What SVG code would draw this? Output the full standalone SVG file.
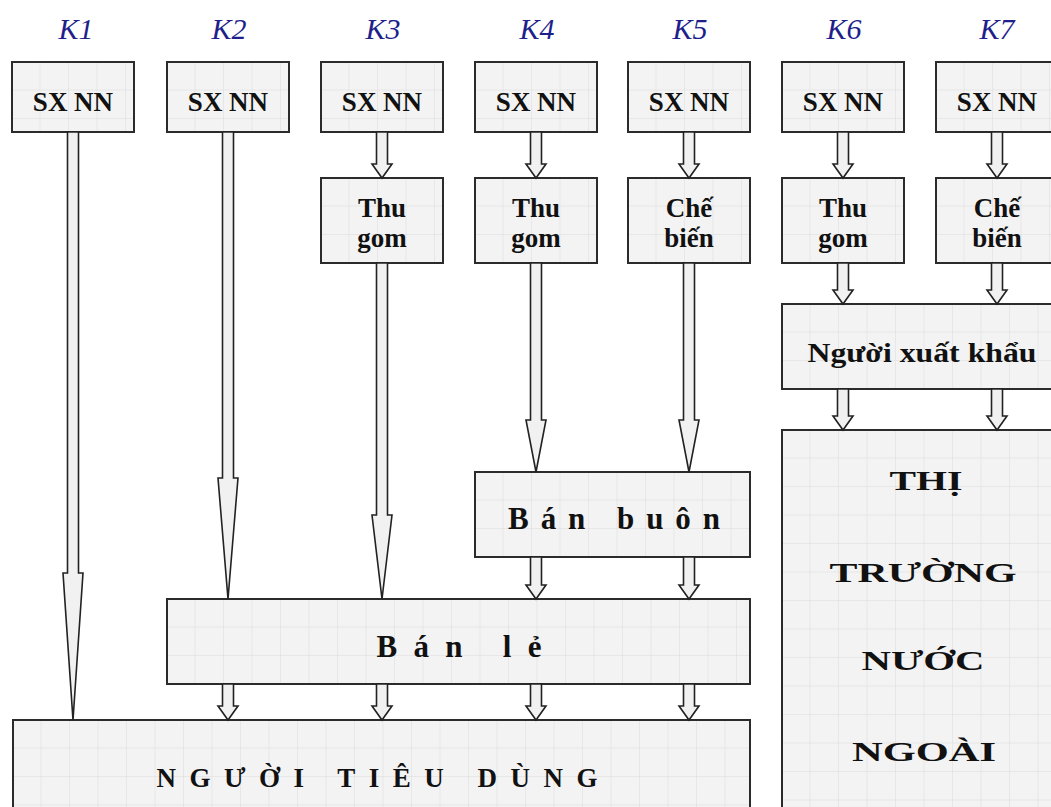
<svg xmlns="http://www.w3.org/2000/svg" width="1051" height="807" viewBox="0 0 1051 807">
  <defs>
    <!-- light squared-paper fill used by every box -->
    <pattern id="grid" width="28.5" height="28.5" patternUnits="userSpaceOnUse">
      <rect width="28.5" height="28.5" fill="#f3f3f3"/>
      <path d="M28.5 0V28.5M0 28.5H28.5" fill="none" stroke="#dcdcdc" stroke-width="1"/>
    </pattern>
  </defs>
  <style>
    .box { fill: url(#grid); stroke: #2b2b2b; stroke-width: 2; }
    .lbl { font-family: "Liberation Serif", "Times New Roman", serif; font-weight: bold; font-size: 27px; fill: #111; text-anchor: middle; }
    .big { font-size: 28px; }
    .wide { font-size: 31px; }
    .k { font-family: "Liberation Serif", "Times New Roman", serif; font-style: italic; font-size: 30px; fill: #1f1f8c; text-anchor: middle; }
    .arr { fill: #f1f1f1; stroke: #222; stroke-width: 1.6; stroke-linejoin: miter; }
  </style>
  <rect width="1051" height="807" fill="#ffffff"/>

  <!-- channel headings -->
  <g id="headings">
    <text class="k" x="76" y="39">K1</text>
    <text class="k" x="229" y="39">K2</text>
    <text class="k" x="383" y="39">K3</text>
    <text class="k" x="537" y="39">K4</text>
    <text class="k" x="690" y="39">K5</text>
    <text class="k" x="844" y="39">K6</text>
    <text class="k" x="997" y="39">K7</text>
  </g>

  <!-- producers -->
  <g id="sx1" transform="translate(12,62)"><rect class="box" width="122" height="70"/><text class="lbl" x="61" y="49">SX NN</text></g>
  <g id="sx2" transform="translate(167,62)"><rect class="box" width="122" height="70"/><text class="lbl" x="61" y="49">SX NN</text></g>
  <g id="sx3" transform="translate(321,62)"><rect class="box" width="122" height="70"/><text class="lbl" x="61" y="49">SX NN</text></g>
  <g id="sx4" transform="translate(475,62)"><rect class="box" width="122" height="70"/><text class="lbl" x="61" y="49">SX NN</text></g>
  <g id="sx5" transform="translate(628,62)"><rect class="box" width="122" height="70"/><text class="lbl" x="61" y="49">SX NN</text></g>
  <g id="sx6" transform="translate(782,62)"><rect class="box" width="122" height="70"/><text class="lbl" x="61" y="49">SX NN</text></g>
  <g id="sx7" transform="translate(936,62)"><rect class="box" width="122" height="70"/><text class="lbl" x="61" y="49">SX NN</text></g>

  <!-- collectors / processors -->
  <g id="tg3" transform="translate(321,178)"><rect class="box" width="122" height="85"/><text class="lbl" x="61" y="39" font-size="25">Thu</text><text class="lbl" x="61" y="69" font-size="25">gom</text></g>
  <g id="tg4" transform="translate(475,178)"><rect class="box" width="122" height="85"/><text class="lbl" x="61" y="39" font-size="25">Thu</text><text class="lbl" x="61" y="69" font-size="25">gom</text></g>
  <g id="cb5" transform="translate(628,178)"><rect class="box" width="122" height="85"/><text class="lbl" x="61" y="39" font-size="25">Chế</text><text class="lbl" x="61" y="69" font-size="25">biến</text></g>
  <g id="tg6" transform="translate(782,178)"><rect class="box" width="122" height="85"/><text class="lbl" x="61" y="39" font-size="25">Thu</text><text class="lbl" x="61" y="69" font-size="25">gom</text></g>
  <g id="cb7" transform="translate(936,178)"><rect class="box" width="122" height="85"/><text class="lbl" x="61" y="39" font-size="25">Chế</text><text class="lbl" x="61" y="69" font-size="25">biến</text></g>

  <!-- exporter and foreign market -->
  <g id="xuatkhau" transform="translate(782,304)"><rect class="box" width="290" height="85"/><text class="lbl" x="140" y="58" textLength="229" lengthAdjust="spacingAndGlyphs">Người xuất khẩu</text></g>
  <g id="nuocngoai" transform="translate(782,430)">
    <rect class="box" width="290" height="400"/>
    <text class="lbl big" x="144" y="60" textLength="73" lengthAdjust="spacingAndGlyphs">THỊ</text>
    <text class="lbl big" x="141" y="152" textLength="187" lengthAdjust="spacingAndGlyphs">TRƯỜNG</text>
    <text class="lbl big" x="141" y="240" textLength="123" lengthAdjust="spacingAndGlyphs">NƯỚC</text>
    <text class="lbl big" x="142" y="331" textLength="144" lengthAdjust="spacingAndGlyphs">NGOÀI</text>
  </g>

  <!-- wholesale, retail, consumers -->
  <g id="banbuon" transform="translate(475,472)"><rect class="box" width="275" height="85"/><text class="lbl wide" x="139" y="57" textLength="212" lengthAdjust="spacing">Bán buôn</text></g>
  <g id="banle" transform="translate(167,599)"><rect class="box" width="583" height="85"/><text class="lbl wide" x="292" y="58" textLength="165" lengthAdjust="spacing">Bán lẻ</text></g>
  <g id="tieudung" transform="translate(13,720)"><rect class="box" width="737" height="100"/><text class="lbl" x="364" y="67" font-size="28" textLength="441" lengthAdjust="spacing">NGƯỜI TIÊU DÙNG</text></g>

  <!-- hollow block arrows -->
  <g id="connectors">
    <!-- producer to collector / processor -->
    <polygon class="arr" points="376.5,132 376.5,164 372,164 382,178 392,164 387.5,164 387.5,132"/>
    <polygon class="arr" points="530.5,132 530.5,164 526,164 536,178 546,164 541.5,164 541.5,132"/>
    <polygon class="arr" points="683.5,132 683.5,164 679,164 689,178 699,164 694.5,164 694.5,132"/>
    <polygon class="arr" points="837.5,132 837.5,164 833,164 843,178 853,164 848.5,164 848.5,132"/>
    <polygon class="arr" points="991.5,132 991.5,164 987,164 997,178 1007,164 1002.5,164 1002.5,132"/>
    <!-- to exporter, then abroad -->
    <polygon class="arr" points="837.5,263 837.5,290 833,290 843,304 853,290 848.5,290 848.5,263"/>
    <polygon class="arr" points="991.5,263 991.5,290 987,290 997,304 1007,290 1002.5,290 1002.5,263"/>
    <polygon class="arr" points="837.5,389 837.5,416 833,416 843,430 853,416 848.5,416 848.5,389"/>
    <polygon class="arr" points="991.5,389 991.5,416 987,416 997,430 1007,416 1002.5,416 1002.5,389"/>
    <!-- long runs with tapered heads -->
    <polygon class="arr" points="67.5,132 67.5,573 63,573 73,720 83,573 78.5,573 78.5,132"/>
    <polygon class="arr" points="222.5,132 222.5,478 218,478 228,599 238,478 233.5,478 233.5,132"/>
    <polygon class="arr" points="376.5,263 376.5,515 372,515 382,599 392,515 387.5,515 387.5,263"/>
    <polygon class="arr" points="530.5,263 530.5,420 526,420 536,472 546,420 541.5,420 541.5,263"/>
    <polygon class="arr" points="683.5,263 683.5,420 679,420 689,472 699,420 694.5,420 694.5,263"/>
    <!-- wholesale to retail -->
    <polygon class="arr" points="530.5,557 530.5,585 526,585 536,599 546,585 541.5,585 541.5,557"/>
    <polygon class="arr" points="683.5,557 683.5,585 679,585 689,599 699,585 694.5,585 694.5,557"/>
    <!-- retail to consumers -->
    <polygon class="arr" points="222.5,684 222.5,706 218,706 228,720 238,706 233.5,706 233.5,684"/>
    <polygon class="arr" points="376.5,684 376.5,706 372,706 382,720 392,706 387.5,706 387.5,684"/>
    <polygon class="arr" points="530.5,684 530.5,706 526,706 536,720 546,706 541.5,706 541.5,684"/>
    <polygon class="arr" points="683.5,684 683.5,706 679,706 689,720 699,706 694.5,706 694.5,684"/>
  </g>
</svg>
